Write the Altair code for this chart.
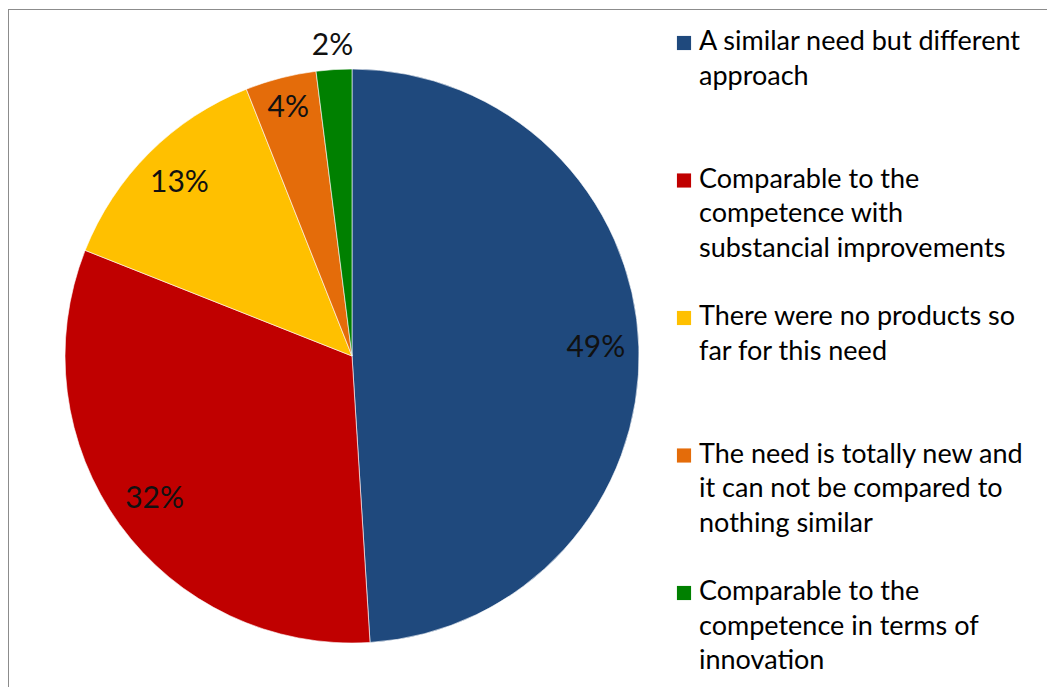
import altair as alt
import pandas as pd

categories = [
    "A similar need but different approach",
    "Comparable to the competence with substancial improvements",
    "There were no products so far for this need",
    "The need is totally new and it can not be compared to nothing similar",
    "Comparable to the competence in terms of innovation",
]
legend_text = [
    "A similar need but different\napproach",
    "Comparable to the\ncompetence with\nsubstancial improvements",
    "There were no products so\nfar for this need",
    "The need is totally new and\nit can not be compared to\nnothing similar",
    "Comparable to the\ncompetence in terms of\ninnovation",
]
values = [49, 32, 13, 4, 2]
labels = ["49%", "32%", "13%", "4%", "2%"]
colors = ["#1F497D", "#C00000", "#FFC000", "#E46C0A", "#008000"]

df = pd.DataFrame({
    "idx": list(range(len(categories))),
    "category": categories,
    "legend": legend_text,
    "value": values,
    "label": labels,
})

W, H = 1039, 679
CX, CY, R = 344, 348, 287
FONT = "Lato"

color = alt.Color("category:N", scale=alt.Scale(domain=categories, range=colors), legend=None)
base = alt.Chart(df)

pie = base.mark_arc(radius=R, stroke="#ffffff", strokeWidth=0.6).encode(
    theta=alt.Theta("value:Q", stack=True),
    order=alt.Order("idx:Q"),
    color=color,
    x=alt.value(CX),
    y=alt.value(CY),
)

pct = base.transform_window(
    cum="sum(value)", sort=[alt.SortField("idx")]
).transform_calculate(
    mid="datum.cum - datum.value / 2",
    lr="datum.value < 3 ? 311 : (datum.value < 5 ? 256 : 244)",
).mark_text(font=FONT, fontSize=30, color="#111111").encode(
    theta=alt.Theta("mid:Q", stack=None),
    radius=alt.Radius("lr:Q", scale=None),
    text="label:N",
    x=alt.value(CX),
    y=alt.value(CY),
)

ypos = alt.Y("idx:O", axis=None, scale=alt.Scale(type="point", domain=list(range(5)), range=[42, 592], padding=0))

leg_sq = base.mark_square(size=200, opacity=1, yOffset=-7).encode(
    x=alt.value(676),
    y=ypos,
    color=color,
)

leg_txt = base.mark_text(font=FONT, fontSize=27, align="left", baseline="alphabetic",
                         lineBreak="\n", lineHeight=34.5, color="#000000").encode(
    x=alt.value(691),
    y=ypos,
    text="legend:N",
)

top_rule = alt.Chart(pd.DataFrame({"a": [0]})).mark_rule(color="#8c8c8c", strokeWidth=1).encode(
    x=alt.value(0), x2=alt.value(W), y=alt.value(1.5)
)
left_rule = alt.Chart(pd.DataFrame({"a": [0]})).mark_rule(color="#8c8c8c", strokeWidth=1).encode(
    x=alt.value(0.5), y=alt.value(1.5), y2=alt.value(H)
)

chart = alt.layer(pie, pct, leg_sq, leg_txt, top_rule, left_rule).properties(
    width=W, height=H, autosize=alt.AutoSizeParams(type="none"), padding=0
).configure_view(stroke=None)

chart.save("out.html", embed_options={"renderer": "svg", "actions": False})
